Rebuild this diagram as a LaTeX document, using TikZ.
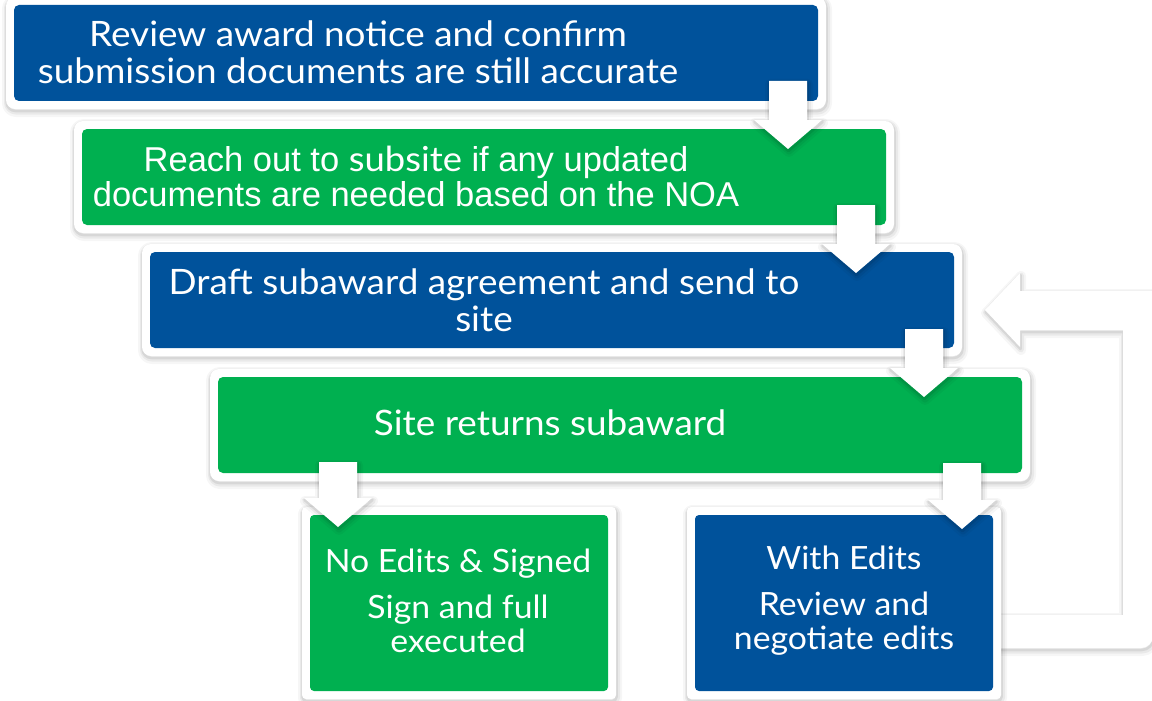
\documentclass[tikz,border=0pt]{standalone}
\usepackage{fontspec}
\setmainfont{Lato}[FakeStretch=1.055]
\newfontfamily\arialf{Liberation Sans}
\definecolor{cblue}{RGB}{0,82,155}
\definecolor{cgreen}{RGB}{0,176,80}
\tikzset{
  shd/.style={
    preaction={draw=black, draw opacity=0.035, line width=10pt, line join=round, transform canvas={shift={(1pt,-3pt)}}},
    preaction={draw=black, draw opacity=0.05, line width=6pt, line join=round, transform canvas={shift={(1pt,-2.5pt)}}},
    preaction={draw=black, draw opacity=0.08, line width=2.5pt, line join=round, transform canvas={shift={(0.5pt,-2pt)}}}},
  card/.style={fill=white, rounded corners=9pt, inner sep=0pt, shd,
    path picture={\fill[#1, rounded corners=5pt]
      ([shift={(8pt,-8pt)}]path picture bounding box.north west) rectangle
      ([shift={(-8pt,8pt)}]path picture bounding box.south east);}},
  sqcard/.style={fill=white, rounded corners=4pt, inner sep=0pt, shd,
    path picture={\fill[#1]
      ([shift={(8pt,-8pt)}]path picture bounding box.north west) rectangle
      ([shift={(-8pt,8pt)}]path picture bounding box.south east);}},
  wide/.style={minimum width=820pt, minimum height=112pt},
  txt/.style={text=white, align=center, inner sep=0pt},
  bigfont/.style={font=\fontsize{35}{37}\selectfont},
  smallfont/.style={font=\fontsize{32}{34}\selectfont},
  barrowfill/.style={fill=white, shd},
  pics/barrow/.style={code={\fill[barrowfill] (-19,0) -- (19,0) -- (19,#1-29) -- (34,#1-29) -- (0,#1) -- (-34,#1-29) -- (-19,#1-29) -- cycle;}}
}
\begin{document}
\begin{tikzpicture}[x=1pt,y=-1pt]
\useasboundingbox (0,0) rectangle (1152,701);
% feedback loop
\fill[barrowfill] (990,615) -- (1123,615) -- (1123,330) -- (1020,330) -- (1020,347) -- (985,310) -- (1020,273) -- (1020,291) -- (1153,291) [rounded corners=12pt] -- (1153,648) [sharp corners] -- (990,648) -- cycle;
% boxes
\node[card=cblue, wide] (b1) at (416,53) {};
\node[card=cgreen, wide] (b2) at (484,177) {};
\node[card=cblue, wide] (b3) at (552,300) {};
\node[card=cgreen, wide] (b4) at (620,425) {};
\node[sqcard=cgreen, minimum width=314pt, minimum height=192pt] (b5) at (459,603) {};
\node[sqcard=cblue, minimum width=314pt, minimum height=192pt] (b6) at (844,603) {};
% texts
\node[txt, bigfont] (t1) at (358,52) {Review award notice and confirm\\submission documents are still accurate};
\node[txt, font=\arialf\fontsize{34.5}{35}\selectfont] (t2) at (416,176) {Reach out to {\normalfont subsite} if any updated\\documents are needed based on the NOA};
\node[txt, bigfont] (t3) at (484,300) {Draft subaward agreement and send to\\site};
\node[txt, bigfont] (t4) at (550,423) {Site returns subaward};
\node[txt, smallfont] (t5) at (458,601) {No Edits \& Signed\\[12pt]Sign and full\\executed};
\node[txt, smallfont] (t6) at (844,601) {With Edits\\[12pt]Review and\\negotiate edits};
% arrows
\pic at (788,81) {barrow=68};
\pic at (856,205) {barrow=68};
\pic at (924,329) {barrow=68};
\pic at (338,462) {barrow=65};
\pic at (962,463) {barrow=66};
\end{tikzpicture}
\end{document}
